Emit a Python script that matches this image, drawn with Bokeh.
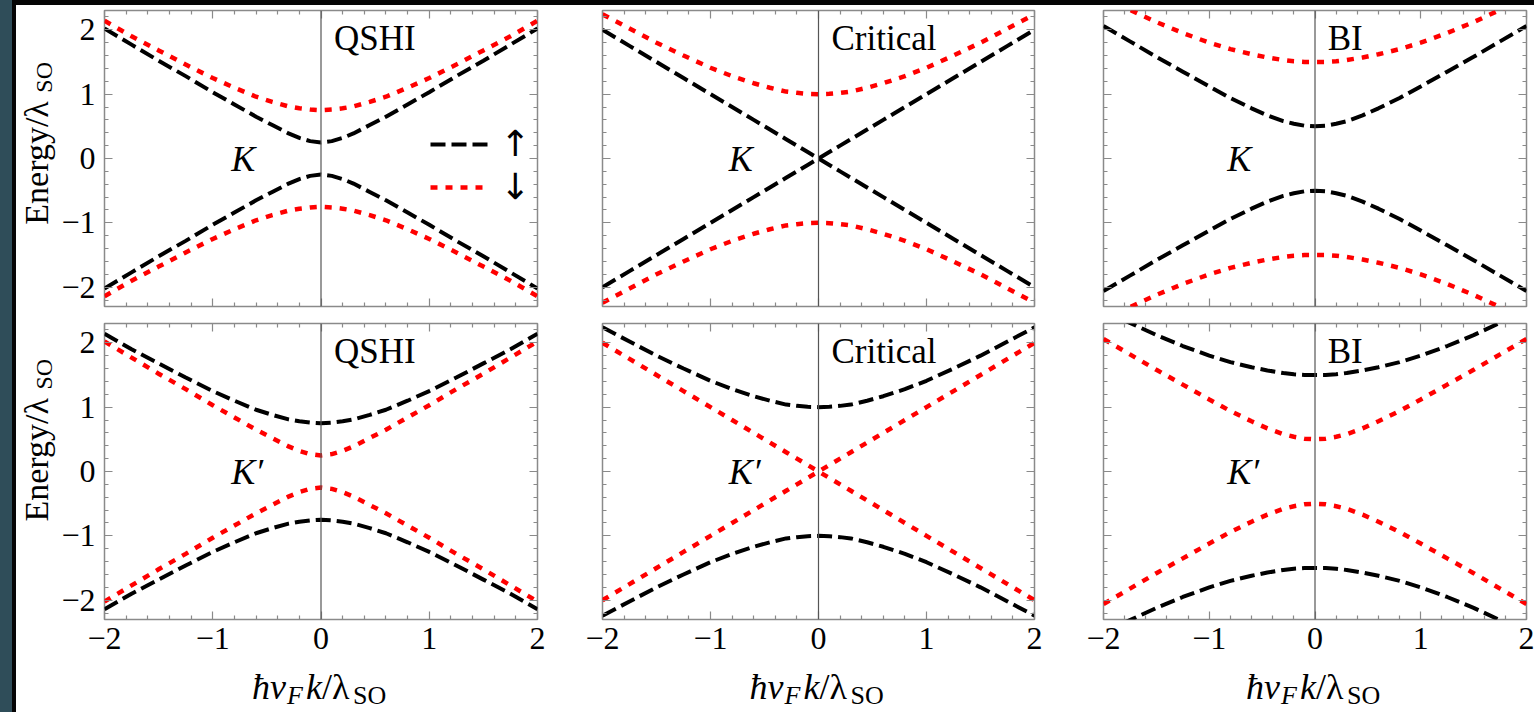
import math
from bokeh.plotting import figure
from bokeh.models import (LinearAxis, FixedTicker, Range1d, Span, Label, Legend,
                          LegendItem, Spacer)
from bokeh.layouts import row, column
from bokeh.embed import file_html
from bokeh.resources import INLINE

# ---------------- data ----------------
k_vals = [-2.0, -1.75, -1.5, -1.25, -1.0, -0.8, -0.6, -0.45, -0.3, -0.2, -0.1, 0.0,
          0.1, 0.2, 0.3, 0.45, 0.6, 0.8, 1.0, 1.25, 1.5, 1.75, 2.0]

# gap 0.25
e025_c = [2.02, 1.77, 1.52, 1.28, 1.03, 0.84, 0.65, 0.52, 0.39, 0.32, 0.27, 0.25,
          0.27, 0.32, 0.39, 0.52, 0.65, 0.84, 1.03, 1.28, 1.52, 1.77, 2.02]
e025_v = [-2.02, -1.77, -1.52, -1.28, -1.03, -0.84, -0.65, -0.52, -0.39, -0.32, -0.27, -0.25,
          -0.27, -0.32, -0.39, -0.52, -0.65, -0.84, -1.03, -1.28, -1.52, -1.77, -2.02]
# gap 0.75
e075_c = [2.14, 1.90, 1.68, 1.46, 1.25, 1.10, 0.96, 0.88, 0.81, 0.78, 0.76, 0.75,
          0.76, 0.78, 0.81, 0.88, 0.96, 1.10, 1.25, 1.46, 1.68, 1.90, 2.14]
e075_v = [-2.14, -1.90, -1.68, -1.46, -1.25, -1.10, -0.96, -0.88, -0.81, -0.78, -0.76, -0.75,
          -0.76, -0.78, -0.81, -0.88, -0.96, -1.10, -1.25, -1.46, -1.68, -1.90, -2.14]
# gap 0 (crossing)
e0_c = [2.0, 1.75, 1.5, 1.25, 1.0, 0.8, 0.6, 0.45, 0.3, 0.2, 0.1, 0.0,
        0.1, 0.2, 0.3, 0.45, 0.6, 0.8, 1.0, 1.25, 1.5, 1.75, 2.0]
e0_v = [-2.0, -1.75, -1.5, -1.25, -1.0, -0.8, -0.6, -0.45, -0.3, -0.2, -0.1, 0.0,
        -0.1, -0.2, -0.3, -0.45, -0.6, -0.8, -1.0, -1.25, -1.5, -1.75, -2.0]
# gap 1
e1_c = [2.24, 2.02, 1.80, 1.60, 1.41, 1.28, 1.17, 1.10, 1.04, 1.02, 1.005, 1.0,
        1.005, 1.02, 1.04, 1.10, 1.17, 1.28, 1.41, 1.60, 1.80, 2.02, 2.24]
e1_v = [-2.24, -2.02, -1.80, -1.60, -1.41, -1.28, -1.17, -1.10, -1.04, -1.02, -1.005, -1.0,
        -1.005, -1.02, -1.04, -1.10, -1.17, -1.28, -1.41, -1.60, -1.80, -2.02, -2.24]
# gap 0.5
e05_c = [2.06, 1.82, 1.58, 1.35, 1.12, 0.94, 0.78, 0.67, 0.58, 0.54, 0.51, 0.50,
         0.51, 0.54, 0.58, 0.67, 0.78, 0.94, 1.12, 1.35, 1.58, 1.82, 2.06]
e05_v = [-2.06, -1.82, -1.58, -1.35, -1.12, -0.94, -0.78, -0.67, -0.58, -0.54, -0.51, -0.50,
         -0.51, -0.54, -0.58, -0.67, -0.78, -0.94, -1.12, -1.35, -1.58, -1.82, -2.06]
# gap 1.5
e15_c = [2.50, 2.31, 2.12, 1.95, 1.80, 1.70, 1.62, 1.57, 1.53, 1.51, 1.50, 1.50,
         1.50, 1.51, 1.53, 1.57, 1.62, 1.70, 1.80, 1.95, 2.12, 2.31, 2.50]
e15_v = [-2.50, -2.31, -2.12, -1.95, -1.80, -1.70, -1.62, -1.57, -1.53, -1.51, -1.50, -1.50,
         -1.50, -1.51, -1.53, -1.57, -1.62, -1.70, -1.80, -1.95, -2.12, -2.31, -2.50]

phase_names = ["QSHI", "Critical", "BI"]
valley_names = ["K", "K\u2032"]
# (spin-up bands, spin-down bands) per valley row and phase column
spin_up = [[(e025_c, e025_v), (e0_c, e0_v), (e05_c, e05_v)],
           [(e075_c, e075_v), (e1_c, e1_v), (e15_c, e15_v)]]
spin_dn = [[(e075_c, e075_v), (e1_c, e1_v), (e15_c, e15_v)],
           [(e025_c, e025_v), (e0_c, e0_v), (e05_c, e05_v)]]
legend_labels = ["\u2191", "\u2193"]

major_ticks = [-2, -1, 0, 1, 2]
major_labels = {-2: "\u22122", -1: "\u22121", 0: "0", 1: "1", 2: "2"}
minor_x = [round(-2 + 0.2 * i, 1) for i in range(21) if i % 5 != 0]
minor_y = [round(-2.2 + 0.2 * i, 1) for i in range(23)
           if round(-2.2 + 0.2 * i, 1) not in (-2, -1, 0, 1, 2)]

FONT = "Liberation Serif"
AX = "#8a8a8a"


def bshift(size):
    # compensation so that the alphabetic baseline lands where intended
    return round(0.34 * size)


def tick_axes(p, side, minor):
    a1 = LinearAxis(ticker=FixedTicker(ticks=[], minor_ticks=minor),
                    major_label_standoff=0, major_tick_in=0, major_tick_out=0,
                    minor_tick_in=4, minor_tick_out=0, axis_line_color=None,
                    minor_tick_line_color=AX, minor_tick_line_width=1.2)
    a2 = LinearAxis(ticker=FixedTicker(ticks=[], minor_ticks=major_ticks),
                    major_label_standoff=0, major_tick_in=0, major_tick_out=0,
                    minor_tick_in=8, minor_tick_out=0, axis_line_color=None,
                    minor_tick_line_color=AX, minor_tick_line_width=1.2)
    p.add_layout(a1, side)
    p.add_layout(a2, side)


def label_axis(p, side, minor, standoff):
    a = LinearAxis(ticker=FixedTicker(ticks=major_ticks, minor_ticks=minor),
                   major_label_overrides=major_labels, major_label_standoff=standoff,
                   major_tick_in=8, major_tick_out=0, minor_tick_in=4, minor_tick_out=0,
                   axis_line_color=None, major_tick_line_color=AX, minor_tick_line_color=AX,
                   major_tick_line_width=1.2, minor_tick_line_width=1.2,
                   major_label_text_font=FONT, major_label_text_font_size="32px",
                   major_label_text_color="black")
    p.add_layout(a, side)


widths = [(44, 433, 32), (33, 432, 36), (33, 423, 10)]
heights = [(5, 296, 8), (9, 296, 44)]
ROW_H = [sum(h) for h in heights]
XLAB_H = 712 - 5 - ROW_H[0] - ROW_H[1]
YLAB_W = 42


def blank_fig(w, h):
    f = figure(width=w, height=h, title=None, min_border=0, min_border_left=0,
               min_border_right=0, min_border_top=0, min_border_bottom=0,
               x_range=Range1d(0, w), y_range=Range1d(0, h),
               x_axis_location=None, y_axis_location=None,
               toolbar_location=None, output_backend="svg",
               background_fill_color="white", border_fill_color="white",
               outline_line_color=None)
    f.grid.visible = False
    return f


def make_panel(r, c):
    bl, fw, br = widths[c]
    bt, fh, bb = heights[r]
    p = figure(frame_width=fw, frame_height=fh, title=None,
               min_border_left=bl, min_border_right=br,
               min_border_top=bt, min_border_bottom=bb,
               x_range=Range1d(-2, 2), y_range=Range1d(-2.3, 2.3),
               x_axis_location=None, y_axis_location=None,
               toolbar_location=None, output_backend="svg",
               background_fill_color="white", border_fill_color="white",
               outline_line_color=AX, outline_line_width=1.5)
    p.grid.visible = False

    if c == 0:
        label_axis(p, "left", minor_y, 9)
    else:
        tick_axes(p, "left", minor_y)
    tick_axes(p, "right", minor_y)
    tick_axes(p, "above", minor_x)
    if r == 1:
        label_axis(p, "below", minor_x, 8)
    else:
        tick_axes(p, "below", minor_x)

    p.add_layout(Span(location=0, dimension="height", line_color="#555555", line_width=1.2))

    up_c, up_v = spin_up[r][c]
    dn_c, dn_v = spin_dn[r][c]
    rr = p.line(k_vals, dn_c, line_color="red", line_width=4.5, line_dash="7 8")
    p.line(k_vals, dn_v, line_color="red", line_width=4.5, line_dash="7 8")
    rb = p.line(k_vals, up_c, line_color="black", line_width=4, line_dash="15 6")
    p.line(k_vals, up_v, line_color="black", line_width=4, line_dash="15 6")

    p.add_layout(Label(x=0.12, y=1.68, y_offset=bshift(35), text=phase_names[c],
                       text_font=FONT, text_font_size="35px", text_align="left",
                       text_baseline="alphabetic", text_color="black"))
    p.add_layout(Label(x=-0.83, y=-0.19, y_offset=bshift(36), text=valley_names[r],
                       text_font=FONT, text_font_style="italic", text_font_size="36px",
                       text_align="left", text_baseline="alphabetic", text_color="black"))

    if r == 0 and c == 0:
        leg = Legend(items=[LegendItem(label=legend_labels[0], renderers=[rb]),
                            LegendItem(label=legend_labels[1], renderers=[rr])],
                     location=(326, 99), orientation="vertical",
                     glyph_width=58, glyph_height=30, label_standoff=12, spacing=2,
                     padding=0, margin=0, border_line_color=None,
                     background_fill_alpha=0, label_text_font="DejaVu Sans",
                     label_text_color="black",
                     label_text_font_size="36px", label_text_baseline="middle")
        p.add_layout(leg)
    return p


def ylabel_fig(h, center_from_top):
    f = blank_fig(YLAB_W, h)
    start = h - center_from_top
    base_x = 48 - 16  # wanted baseline column, page x 48
    common = dict(x=base_x, y=start, angle=math.pi / 2, text_font=FONT,
                  text_align="left", text_baseline="alphabetic", text_color="black")
    f.add_layout(Label(text="Energy/\u03bb", text_font_size="34px",
                       x_offset=-bshift(34), y_offset=-81, **common))
    f.add_layout(Label(text="SO", text_font_size="24px",
                       x_offset=3 - bshift(24), y_offset=-81 + 132, **common))
    return f


def xlabel_fig(w, cx):
    f = blank_fig(w, XLAB_H)
    base = 14  # wanted baseline, pixels above the page bottom
    common = dict(x=cx, y=base, text_font=FONT, text_align="left",
                  text_baseline="alphabetic", text_color="black")
    f.add_layout(Label(x_offset=-67, y_offset=bshift(36), text="\u0127v",
                       text_font_style="italic", text_font_size="36px", **common))
    f.add_layout(Label(x_offset=-32, y_offset=-6 + bshift(26), text="F",
                       text_font_style="italic", text_font_size="26px", **common))
    f.add_layout(Label(x_offset=-13, y_offset=bshift(36), text="k",
                       text_font_style="italic", text_font_size="36px", **common))
    f.add_layout(Label(x_offset=3, y_offset=bshift(36), text="/\u03bb",
                       text_font_size="36px", **common))
    f.add_layout(Label(x_offset=34, y_offset=-6 + bshift(26), text="SO",
                       text_font_size="26px", **common))
    return f


panels = [[make_panel(r, c) for c in range(3)] for r in range(2)]
col_w = [sum(w) for w in widths]
# position of k = 0 inside each column canvas
zero_x = [widths[i][0] + widths[i][1] / 2 for i in range(3)]

grid = column(
    row(ylabel_fig(ROW_H[0], 139), *panels[0]),
    row(ylabel_fig(ROW_H[1], 138), *panels[1]),
    row(Spacer(width=YLAB_W, height=XLAB_H, styles={"background-color": "white"}),
        *[xlabel_fig(col_w[i], zero_x[i]) for i in range(3)]),
)

slate = Spacer(width=12, height=712, styles={"background-color": "#2f4d59"})
topbar = Spacer(width=1522, height=5, styles={"background-color": "#050505"})
leftbar = Spacer(width=4, height=707, styles={"background-color": "#050505"})
layout = row(slate, column(topbar, row(leftbar, grid)))

open("out.html", "w").write(file_html(layout, INLINE))
